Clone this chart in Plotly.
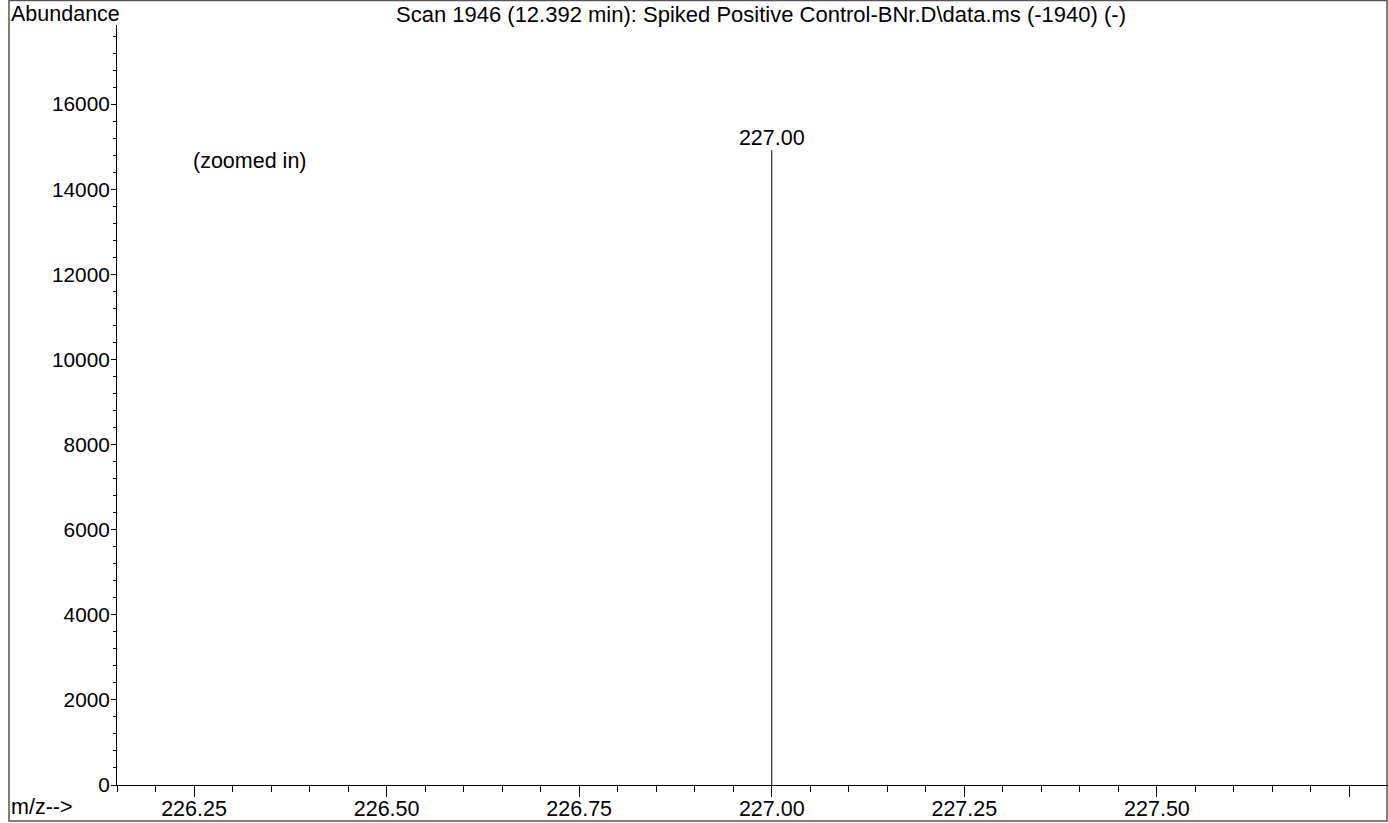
import plotly.graph_objects as go

# Data
mz = [227.00]
abundance = [14920]
peak_labels = ["227.00"]
x_tick_vals = [226.25, 226.50, 226.75, 227.00, 227.25, 227.50, 227.75]
x_tick_text = ["226.25", "226.50", "226.75", "227.00", "227.25", "227.50", ""]
y_tick_vals = [0, 2000, 4000, 6000, 8000, 10000, 12000, 14000, 16000]
y_tick_text = ["0", "2000", "4000", "6000", "8000", "10000", "12000", "14000", "16000"]
title_text = "Scan 1946 (12.392 min): Spiked Positive Control-BNr.D\\data.ms (-1940) (-)"

W, H = 1388, 823
L, R, T, B = 117, 0, 25, 38
pw, ph = W - L - R, H - T - B

FONT = "Liberation Sans, Arial, Helvetica, sans-serif"
FS = 21.5

# stick spectrum
sx, sy = [], []
for m, a in zip(mz, abundance):
    sx += [m, m, None]
    sy += [0, a, None]

fig = go.Figure()
fig.add_trace(go.Scatter(x=sx, y=sy, mode="lines",
                         line=dict(color="black", width=1), hoverinfo="skip",
                         showlegend=False))
fig.add_trace(go.Scatter(x=mz, y=abundance, mode="text", text=peak_labels,
                         textposition="top center",
                         textfont=dict(size=FS, color="black", family=FONT),
                         showlegend=False))

fig.update_layout(
    width=W, height=H,
    margin=dict(l=L, r=R, t=T, b=B, pad=0, autoexpand=False),
    paper_bgcolor="white", plot_bgcolor="white",
    font=dict(family=FONT, size=FS, color="black"),
    showlegend=False,
    xaxis=dict(range=[226.15, 227.80], showgrid=False, zeroline=False,
               automargin=False,
               showline=True, linecolor="black", linewidth=1,
               tickmode="array", tickvals=x_tick_vals, ticktext=x_tick_text,
               ticks="outside", ticklen=11, tickcolor="black", tickwidth=1,
               ticklabelstandoff=-7,
               tickfont=dict(size=FS, family=FONT, color="black"),
               minor=dict(dtick=0.05, tick0=226.15, ticks="outside", ticklen=6,
                          tickcolor="black", tickwidth=1, showgrid=False)),
    yaxis=dict(range=[0, 17860], showgrid=False, zeroline=False,
               automargin=False,
               showline=True, linecolor="black", linewidth=1,
               tickmode="array", tickvals=y_tick_vals, ticktext=y_tick_text,
               ticks="outside", ticklen=5, tickcolor="black", tickwidth=1,
               ticklabelstandoff=-3,
               tickfont=dict(size=20.8, family=FONT, color="black"),
               minor=dict(dtick=400, tick0=0, ticks="outside", ticklen=3,
                          tickcolor="black", tickwidth=1, showgrid=False)),
)

# outer frame
fig.add_shape(type="rect", xref="paper", yref="paper",
              x0=(9 - L) / pw, x1=(1387 - L) / pw,
              y0=-(821 - (H - B)) / ph, y1=1 + (T - 0.5) / ph,
              line=dict(color="#555555", width=1.5), layer="below")

fig.add_annotation(text="Abundance", xref="paper", yref="paper",
                   x=(9 - L) / pw, y=1 + (T - 0) / ph, xanchor="left", yanchor="top",
                   showarrow=False, font=dict(size=FS, family=FONT, color="black"))
fig.add_annotation(text="m/z-->", xref="paper", yref="paper",
                   x=(9 - L) / pw, y=-(821 - (H - B)) / ph, xanchor="left", yanchor="bottom",
                   showarrow=False, font=dict(size=FS, family=FONT, color="black"))
fig.add_annotation(text=title_text, xref="paper", yref="paper",
                   x=(761 - L) / pw, y=1 + (T - 0) / ph, xanchor="center", yanchor="top",
                   showarrow=False, font=dict(size=22, family=FONT, color="black"))
fig.add_annotation(text="(zoomed in)", xref="x", yref="y",
                   x=226.246, y=14670, xanchor="left", yanchor="middle",
                   showarrow=False, font=dict(size=FS, family=FONT, color="black"))

fig.write_html("out.html", config={"displayModeBar": False},
               post_script="document.body.style.margin='0';document.body.style.padding='0';")
